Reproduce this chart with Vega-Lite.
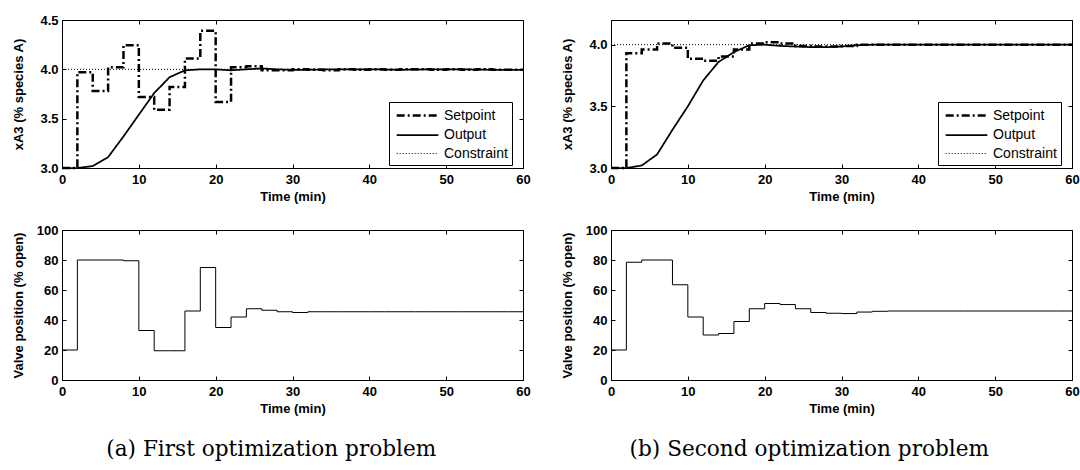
{
  "$schema": "https://vega.github.io/schema/vega-lite/v6.json",
  "padding": {"left": 11, "top": 13, "right": 8, "bottom": 4},
  "resolve": {"scale": {"strokeDash": "independent", "strokeWidth": "independent"}, "legend": {"strokeDash": "independent", "strokeWidth": "independent"}},
  "config": {
    "font": "Liberation Sans",
    "view": {"stroke": "black", "strokeWidth": 1},
    "axis": {"grid": false, "domainColor": "black", "domainWidth": 1, "tickColor": "black", "tickSize": -4, "labelFont": "Liberation Sans", "labelFontSize": 13, "labelFontWeight": "bold", "labelColor": "black", "labelFlush": false, "labelOverlap": false, "titleFont": "Liberation Sans", "titleFontSize": 13, "titleFontWeight": "bold", "titleColor": "black"},
    "axisX": {"titlePadding": 4, "labelPadding": 9},
    "axisY": {"titlePadding": 11, "labelPadding": 8},
    "legend": {"orient": "none", "legendX": 327, "legendY": 82, "strokeColor": "black", "fillColor": "white", "padding": 4, "labelFont": "Liberation Sans", "labelFontSize": 14, "labelColor": "black", "symbolType": "M-2.6,0H2.6", "symbolSize": 256, "symbolOffset": 15, "symbolStrokeColor": "black", "rowPadding": 3, "labelOffset": 17},
    "title": {"font": "DejaVu Serif", "fontSize": 21.6, "fontWeight": "normal", "color": "black", "orient": "bottom", "anchor": "middle", "offset": 23}
  },
  "datasets": {
    "topA": [
      {"s": "Constraint", "t": 0, "v": 4.0}, {"s": "Constraint", "t": 60, "v": 4.0},
      {"s": "Setpoint", "t": 0, "v": 3.0}, {"s": "Setpoint", "t": 2, "v": 3.97}, {"s": "Setpoint", "t": 4, "v": 3.78}, {"s": "Setpoint", "t": 6, "v": 4.02}, {"s": "Setpoint", "t": 8, "v": 4.245}, {"s": "Setpoint", "t": 10, "v": 3.72}, {"s": "Setpoint", "t": 12, "v": 3.59}, {"s": "Setpoint", "t": 14, "v": 3.82}, {"s": "Setpoint", "t": 16, "v": 4.11}, {"s": "Setpoint", "t": 18, "v": 4.39}, {"s": "Setpoint", "t": 20, "v": 3.67}, {"s": "Setpoint", "t": 22, "v": 4.02}, {"s": "Setpoint", "t": 24, "v": 4.03}, {"s": "Setpoint", "t": 26, "v": 3.99}, {"s": "Setpoint", "t": 28, "v": 3.99}, {"s": "Setpoint", "t": 30, "v": 4.0}, {"s": "Setpoint", "t": 32, "v": 3.995}, {"s": "Setpoint", "t": 34, "v": 3.99}, {"s": "Setpoint", "t": 36, "v": 4.0}, {"s": "Setpoint", "t": 38, "v": 3.995}, {"s": "Setpoint", "t": 40, "v": 4.0}, {"s": "Setpoint", "t": 42, "v": 3.995}, {"s": "Setpoint", "t": 44, "v": 4.0}, {"s": "Setpoint", "t": 46, "v": 4.0}, {"s": "Setpoint", "t": 48, "v": 3.995}, {"s": "Setpoint", "t": 50, "v": 4.0}, {"s": "Setpoint", "t": 52, "v": 3.995}, {"s": "Setpoint", "t": 54, "v": 4.0}, {"s": "Setpoint", "t": 56, "v": 3.995}, {"s": "Setpoint", "t": 58, "v": 3.995}, {"s": "Setpoint", "t": 60, "v": 3.995},
      {"s": "Output", "t": 0, "v": 3.0}, {"s": "Output", "t": 2, "v": 3.0}, {"s": "Output", "t": 4, "v": 3.02}, {"s": "Output", "t": 6, "v": 3.11}, {"s": "Output", "t": 8, "v": 3.32}, {"s": "Output", "t": 10, "v": 3.54}, {"s": "Output", "t": 12, "v": 3.76}, {"s": "Output", "t": 14, "v": 3.92}, {"s": "Output", "t": 16, "v": 3.99}, {"s": "Output", "t": 18, "v": 4.0}, {"s": "Output", "t": 20, "v": 4.0}, {"s": "Output", "t": 22, "v": 3.99}, {"s": "Output", "t": 24, "v": 4.0}, {"s": "Output", "t": 26, "v": 4.01}, {"s": "Output", "t": 28, "v": 4.0}, {"s": "Output", "t": 30, "v": 3.995}, {"s": "Output", "t": 32, "v": 3.995}, {"s": "Output", "t": 34, "v": 4.0}, {"s": "Output", "t": 36, "v": 4.0}, {"s": "Output", "t": 40, "v": 4.0}, {"s": "Output", "t": 44, "v": 3.995}, {"s": "Output", "t": 48, "v": 4.0}, {"s": "Output", "t": 52, "v": 4.0}, {"s": "Output", "t": 56, "v": 3.995}, {"s": "Output", "t": 60, "v": 3.995}
    ],
    "topB": [
      {"s": "Constraint", "t": 0, "v": 4.0}, {"s": "Constraint", "t": 60, "v": 4.0},
      {"s": "Setpoint", "t": 0, "v": 3.0}, {"s": "Setpoint", "t": 2, "v": 3.93}, {"s": "Setpoint", "t": 4, "v": 3.96}, {"s": "Setpoint", "t": 6, "v": 4.01}, {"s": "Setpoint", "t": 8, "v": 3.975}, {"s": "Setpoint", "t": 10, "v": 3.885}, {"s": "Setpoint", "t": 12, "v": 3.87}, {"s": "Setpoint", "t": 14, "v": 3.905}, {"s": "Setpoint", "t": 16, "v": 3.96}, {"s": "Setpoint", "t": 18, "v": 4.01}, {"s": "Setpoint", "t": 20, "v": 4.02}, {"s": "Setpoint", "t": 22, "v": 4.01}, {"s": "Setpoint", "t": 24, "v": 3.99}, {"s": "Setpoint", "t": 26, "v": 3.985}, {"s": "Setpoint", "t": 28, "v": 3.985}, {"s": "Setpoint", "t": 30, "v": 3.99}, {"s": "Setpoint", "t": 32, "v": 4.0}, {"s": "Setpoint", "t": 34, "v": 4.0}, {"s": "Setpoint", "t": 36, "v": 4.0}, {"s": "Setpoint", "t": 38, "v": 4.0}, {"s": "Setpoint", "t": 40, "v": 4.0}, {"s": "Setpoint", "t": 42, "v": 4.0}, {"s": "Setpoint", "t": 44, "v": 4.0}, {"s": "Setpoint", "t": 46, "v": 4.0}, {"s": "Setpoint", "t": 48, "v": 4.0}, {"s": "Setpoint", "t": 50, "v": 4.0}, {"s": "Setpoint", "t": 52, "v": 4.0}, {"s": "Setpoint", "t": 54, "v": 4.0}, {"s": "Setpoint", "t": 56, "v": 4.0}, {"s": "Setpoint", "t": 58, "v": 4.0}, {"s": "Setpoint", "t": 60, "v": 4.0},
      {"s": "Output", "t": 0, "v": 3.0}, {"s": "Output", "t": 2, "v": 3.0}, {"s": "Output", "t": 4, "v": 3.02}, {"s": "Output", "t": 6, "v": 3.11}, {"s": "Output", "t": 8, "v": 3.31}, {"s": "Output", "t": 10, "v": 3.5}, {"s": "Output", "t": 12, "v": 3.71}, {"s": "Output", "t": 14, "v": 3.86}, {"s": "Output", "t": 16, "v": 3.94}, {"s": "Output", "t": 18, "v": 3.995}, {"s": "Output", "t": 20, "v": 4.0}, {"s": "Output", "t": 22, "v": 3.99}, {"s": "Output", "t": 24, "v": 3.985}, {"s": "Output", "t": 26, "v": 3.98}, {"s": "Output", "t": 28, "v": 3.98}, {"s": "Output", "t": 30, "v": 3.985}, {"s": "Output", "t": 32, "v": 3.995}, {"s": "Output", "t": 34, "v": 4.0}, {"s": "Output", "t": 40, "v": 4.0}, {"s": "Output", "t": 50, "v": 4.0}, {"s": "Output", "t": 60, "v": 4.0}
    ],
    "valveA": [
      {"t": 0, "v": 20}, {"t": 2, "v": 80}, {"t": 4, "v": 80}, {"t": 6, "v": 80}, {"t": 8, "v": 79.5}, {"t": 10, "v": 33}, {"t": 12, "v": 19.5}, {"t": 14, "v": 19.5}, {"t": 16, "v": 46}, {"t": 18, "v": 75}, {"t": 20, "v": 35}, {"t": 22, "v": 42}, {"t": 24, "v": 47.5}, {"t": 26, "v": 46.5}, {"t": 28, "v": 45.5}, {"t": 30, "v": 45}, {"t": 32, "v": 45.5}, {"t": 34, "v": 45.5}, {"t": 36, "v": 45.5}, {"t": 38, "v": 45.5}, {"t": 40, "v": 45.5}, {"t": 42, "v": 45.5}, {"t": 44, "v": 45.5}, {"t": 46, "v": 45.5}, {"t": 48, "v": 45.5}, {"t": 50, "v": 45.5}, {"t": 52, "v": 45.5}, {"t": 54, "v": 45.5}, {"t": 56, "v": 45.5}, {"t": 58, "v": 45.5}, {"t": 60, "v": 45.5}
    ],
    "valveB": [
      {"t": 0, "v": 20}, {"t": 2, "v": 78.5}, {"t": 4, "v": 80}, {"t": 6, "v": 80}, {"t": 8, "v": 63.5}, {"t": 10, "v": 42}, {"t": 12, "v": 30}, {"t": 14, "v": 31}, {"t": 16, "v": 39}, {"t": 18, "v": 47.5}, {"t": 20, "v": 51}, {"t": 22, "v": 50.3}, {"t": 24, "v": 47.5}, {"t": 26, "v": 45}, {"t": 28, "v": 44.5}, {"t": 30, "v": 44.3}, {"t": 32, "v": 45.3}, {"t": 34, "v": 45.8}, {"t": 36, "v": 46}, {"t": 38, "v": 46}, {"t": 40, "v": 46}, {"t": 42, "v": 46}, {"t": 44, "v": 46}, {"t": 46, "v": 46}, {"t": 48, "v": 46}, {"t": 50, "v": 46}, {"t": 52, "v": 46}, {"t": 54, "v": 46}, {"t": 56, "v": 46}, {"t": 58, "v": 46}, {"t": 60, "v": 46}
    ]
  },
  "hconcat": [
    {
      "title": {"text": "(a) First optimization problem"},
      "spacing": 19,
      "resolve": {"scale": {"strokeDash": "independent", "strokeWidth": "independent"}, "legend": {"strokeDash": "independent", "strokeWidth": "independent"}},
      "vconcat": [
        {
          "width": 461, "height": 148,
          "data": {"name": "topA"},
          "resolve": {"axis": {"x": "independent", "y": "independent"}},
          "layer": [
            {
              "transform": [{"filter": "datum.s === 'Constraint'"}],
              "mark": {"type": "line", "color": "black"},
              "encoding": {
                "x": {"field": "t", "type": "quantitative", "scale": {"domain": [0, 60], "nice": false}, "axis": {"title": "Time (min)", "values": [0, 10, 20, 30, 40, 50, 60]}},
                "y": {"field": "v", "type": "quantitative", "scale": {"domain": [3, 4.5], "nice": false, "zero": false}, "axis": {"title": "xA3 (% species A)", "titlePadding": 14, "values": [3, 3.5, 4, 4.5], "format": ".1f"}},
                "strokeDash": {"field": "s", "type": "nominal", "scale": {"domain": ["Setpoint", "Output", "Constraint"], "range": [[8, 3, 2, 3], [1, 0], [1, 2]]}, "legend": {"title": null}},
                "strokeWidth": {"field": "s", "type": "nominal", "scale": {"domain": ["Setpoint", "Output", "Constraint"], "range": [2.5, 1, 1]}, "legend": {"title": null}}
              }
            },
            {
              "transform": [{"filter": "datum.s === 'Output'"}],
              "mark": {"type": "line", "color": "black"},
              "encoding": {
                "x": {"field": "t", "type": "quantitative", "scale": {"domain": [0, 60], "nice": false}, "axis": null},
                "y": {"field": "v", "type": "quantitative", "scale": {"domain": [3, 4.5], "nice": false, "zero": false}, "axis": null},
                "strokeDash": {"field": "s", "type": "nominal", "scale": {"domain": ["Setpoint", "Output", "Constraint"], "range": [[8, 3, 2, 3], [1, 0], [1, 2]]}, "legend": {"title": null}},
                "strokeWidth": {"field": "s", "type": "nominal", "scale": {"domain": ["Setpoint", "Output", "Constraint"], "range": [2.5, 1, 1]}, "legend": {"title": null}}
              }
            },
            {
              "transform": [{"filter": "datum.s === 'Setpoint'"}],
              "mark": {"type": "line", "color": "black", "interpolate": "step-after"},
              "encoding": {
                "x": {"field": "t", "type": "quantitative", "scale": {"domain": [0, 60], "nice": false}, "axis": null},
                "y": {"field": "v", "type": "quantitative", "scale": {"domain": [3, 4.5], "nice": false, "zero": false}, "axis": null},
                "strokeDash": {"field": "s", "type": "nominal", "scale": {"domain": ["Setpoint", "Output", "Constraint"], "range": [[8, 3, 2, 3], [1, 0], [1, 2]]}, "legend": {"title": null}},
                "strokeWidth": {"field": "s", "type": "nominal", "scale": {"domain": ["Setpoint", "Output", "Constraint"], "range": [2.5, 1, 1]}, "legend": {"title": null}}
              }
            },
            {
              "transform": [{"filter": "datum.s === 'Constraint'"}],
              "mark": {"type": "line", "opacity": 0},
              "encoding": {
                "x": {"field": "t", "type": "quantitative", "scale": {"domain": [0, 60], "nice": false}, "axis": {"orient": "top", "labels": false, "title": null, "domain": false, "values": [0, 10, 20, 30, 40, 50, 60]}},
                "y": {"field": "v", "type": "quantitative", "scale": {"domain": [3, 4.5], "nice": false, "zero": false}, "axis": {"orient": "right", "labels": false, "title": null, "domain": false, "values": [3, 3.5, 4, 4.5]}}
              }
            }
          ]
        },
        {
          "width": 461, "height": 150,
          "data": {"name": "valveA"},
          "resolve": {"axis": {"x": "independent", "y": "independent"}},
          "layer": [
            {
              "mark": {"type": "line", "color": "black", "strokeWidth": 1, "interpolate": "step-after"},
              "encoding": {
                "x": {"field": "t", "type": "quantitative", "scale": {"domain": [0, 60], "nice": false}, "axis": {"title": "Time (min)", "values": [0, 10, 20, 30, 40, 50, 60]}},
                "y": {"field": "v", "type": "quantitative", "scale": {"domain": [0, 100], "nice": false}, "axis": {"title": "Valve position (% open)", "values": [0, 20, 40, 60, 80, 100]}}
              }
            },
            {
              "mark": {"type": "line", "opacity": 0},
              "encoding": {
                "x": {"field": "t", "type": "quantitative", "scale": {"domain": [0, 60], "nice": false}, "axis": {"orient": "top", "labels": false, "title": null, "domain": false, "values": [0, 10, 20, 30, 40, 50, 60]}},
                "y": {"field": "v", "type": "quantitative", "scale": {"domain": [0, 100], "nice": false}, "axis": {"orient": "right", "labels": false, "title": null, "domain": false, "values": [0, 20, 40, 60, 80, 100]}}
              }
            }
          ]
        }
      ]
    },
    {
      "title": {"text": "(b) Second optimization problem", "dx": -11},
      "spacing": 19,
      "resolve": {"scale": {"strokeDash": "independent", "strokeWidth": "independent"}, "legend": {"strokeDash": "independent", "strokeWidth": "independent"}},
      "vconcat": [
        {
          "width": 461, "height": 148,
          "data": {"name": "topB"},
          "resolve": {"axis": {"x": "independent", "y": "independent"}},
          "layer": [
            {
              "transform": [{"filter": "datum.s === 'Constraint'"}],
              "mark": {"type": "line", "color": "black"},
              "encoding": {
                "x": {"field": "t", "type": "quantitative", "scale": {"domain": [0, 60], "nice": false}, "axis": {"title": "Time (min)", "values": [0, 10, 20, 30, 40, 50, 60]}},
                "y": {"field": "v", "type": "quantitative", "scale": {"domain": [3, 4.2], "nice": false, "zero": false}, "axis": {"title": "xA3 (% species A)", "titlePadding": 14, "values": [3, 3.5, 4], "format": ".1f"}},
                "strokeDash": {"field": "s", "type": "nominal", "scale": {"domain": ["Setpoint", "Output", "Constraint"], "range": [[8, 3, 2, 3], [1, 0], [1, 2]]}, "legend": {"title": null}},
                "strokeWidth": {"field": "s", "type": "nominal", "scale": {"domain": ["Setpoint", "Output", "Constraint"], "range": [2.5, 1, 1]}, "legend": {"title": null}}
              }
            },
            {
              "transform": [{"filter": "datum.s === 'Output'"}],
              "mark": {"type": "line", "color": "black"},
              "encoding": {
                "x": {"field": "t", "type": "quantitative", "scale": {"domain": [0, 60], "nice": false}, "axis": null},
                "y": {"field": "v", "type": "quantitative", "scale": {"domain": [3, 4.2], "nice": false, "zero": false}, "axis": null},
                "strokeDash": {"field": "s", "type": "nominal", "scale": {"domain": ["Setpoint", "Output", "Constraint"], "range": [[8, 3, 2, 3], [1, 0], [1, 2]]}, "legend": {"title": null}},
                "strokeWidth": {"field": "s", "type": "nominal", "scale": {"domain": ["Setpoint", "Output", "Constraint"], "range": [2.5, 1, 1]}, "legend": {"title": null}}
              }
            },
            {
              "transform": [{"filter": "datum.s === 'Setpoint'"}],
              "mark": {"type": "line", "color": "black", "interpolate": "step-after"},
              "encoding": {
                "x": {"field": "t", "type": "quantitative", "scale": {"domain": [0, 60], "nice": false}, "axis": null},
                "y": {"field": "v", "type": "quantitative", "scale": {"domain": [3, 4.2], "nice": false, "zero": false}, "axis": null},
                "strokeDash": {"field": "s", "type": "nominal", "scale": {"domain": ["Setpoint", "Output", "Constraint"], "range": [[8, 3, 2, 3], [1, 0], [1, 2]]}, "legend": {"title": null}},
                "strokeWidth": {"field": "s", "type": "nominal", "scale": {"domain": ["Setpoint", "Output", "Constraint"], "range": [2.5, 1, 1]}, "legend": {"title": null}}
              }
            },
            {
              "transform": [{"filter": "datum.s === 'Constraint'"}],
              "mark": {"type": "line", "opacity": 0},
              "encoding": {
                "x": {"field": "t", "type": "quantitative", "scale": {"domain": [0, 60], "nice": false}, "axis": {"orient": "top", "labels": false, "title": null, "domain": false, "values": [0, 10, 20, 30, 40, 50, 60]}},
                "y": {"field": "v", "type": "quantitative", "scale": {"domain": [3, 4.2], "nice": false, "zero": false}, "axis": {"orient": "right", "labels": false, "title": null, "domain": false, "values": [3, 3.5, 4]}}
              }
            }
          ]
        },
        {
          "width": 461, "height": 150,
          "data": {"name": "valveB"},
          "resolve": {"axis": {"x": "independent", "y": "independent"}},
          "layer": [
            {
              "mark": {"type": "line", "color": "black", "strokeWidth": 1, "interpolate": "step-after"},
              "encoding": {
                "x": {"field": "t", "type": "quantitative", "scale": {"domain": [0, 60], "nice": false}, "axis": {"title": "Time (min)", "values": [0, 10, 20, 30, 40, 50, 60]}},
                "y": {"field": "v", "type": "quantitative", "scale": {"domain": [0, 100], "nice": false}, "axis": {"title": "Valve position (% open)", "values": [0, 20, 40, 60, 80, 100]}}
              }
            },
            {
              "mark": {"type": "line", "opacity": 0},
              "encoding": {
                "x": {"field": "t", "type": "quantitative", "scale": {"domain": [0, 60], "nice": false}, "axis": {"orient": "top", "labels": false, "title": null, "domain": false, "values": [0, 10, 20, 30, 40, 50, 60]}},
                "y": {"field": "v", "type": "quantitative", "scale": {"domain": [0, 100], "nice": false}, "axis": {"orient": "right", "labels": false, "title": null, "domain": false, "values": [0, 20, 40, 60, 80, 100]}}
              }
            }
          ]
        }
      ]
    }
  ],
  "spacing": 29
}
